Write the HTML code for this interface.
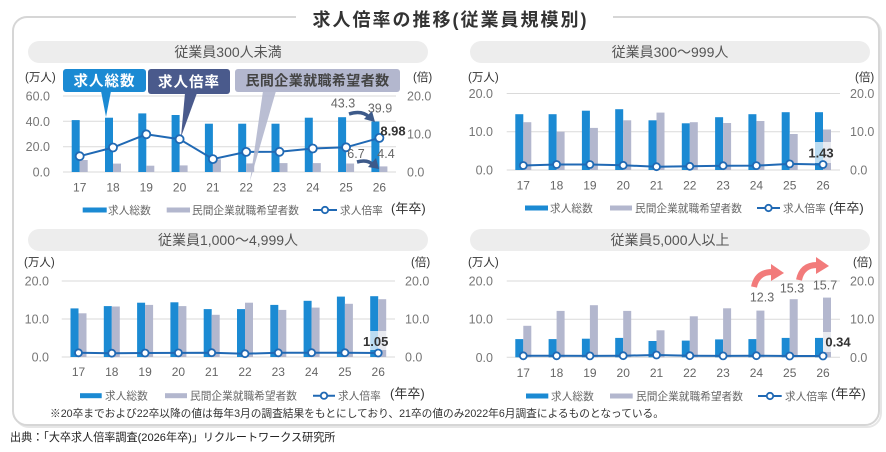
<!DOCTYPE html>
<html><head><meta charset="utf-8"><style>
html,body{margin:0;padding:0;background:#fff;}
body{width:886px;height:452px;overflow:hidden;}
svg{display:block;font-family:"Liberation Sans","Noto Sans CJK JP",sans-serif;}
.ax{font-size:12.5px;fill:#777;}
.yr{font-size:12px;fill:#666;text-anchor:middle;}
.un{font-size:11.5px;fill:#333;}
.lg{font-size:10.7px;fill:#666;}
.nen{font-size:13px;fill:#333;}
.pill{font-size:14px;fill:#555;text-anchor:middle;}
.grid{stroke:#dadada;stroke-width:1;}
.b{fill:#1b8ad3;}
.g{fill:#b3b7ce;}
.ln{fill:none;stroke:#2069b4;stroke-width:2;}
.mk{fill:#fff;stroke:#2069b4;stroke-width:1.8;}
.ann{font-size:12.5px;fill:#666;text-anchor:middle;}
.bold{font-size:13px;font-weight:bold;fill:#333;text-anchor:middle;}
</style></head><body>
<svg width="886" height="452" viewBox="0 0 886 452">
<!-- outer panel -->
<rect x="15" y="19" width="866" height="408" rx="14" fill="none" stroke="#e6e6e6" stroke-width="2"/>
<rect x="13" y="17" width="866" height="408" rx="14" fill="#fff" stroke="#d6d6d6" stroke-width="2"/>
<rect x="296" y="8" width="317" height="14" fill="#fff"/>
<text x="450.5" y="26" font-size="18" font-weight="bold" fill="#333" text-anchor="middle" letter-spacing="2">求人倍率の推移(従業員規模別)</text>

<!-- pills -->
<rect x="28" y="41" width="400" height="22" rx="11" fill="#ededed"/>
<text class="pill" x="228" y="57">従業員300人未満</text>
<rect x="470" y="41" width="400" height="22" rx="11" fill="#ededed"/>
<text class="pill" x="670" y="57">従業員300～999人</text>
<rect x="28" y="229" width="400" height="22" rx="11" fill="#ededed"/>
<text class="pill" x="228" y="245">従業員1,000～4,999人</text>
<rect x="470" y="229" width="400" height="22" rx="11" fill="#ededed"/>
<text class="pill" x="670" y="245">従業員5,000人以上</text>

<!-- ===== Chart A ===== -->
<line class="grid" x1="63" y1="96" x2="396" y2="96"/>
<line class="grid" x1="63" y1="121.3" x2="396" y2="121.3"/>
<line class="grid" x1="63" y1="146.7" x2="396" y2="146.7"/>
<line class="grid" x1="63" y1="172" x2="396" y2="172" stroke="#cfcfcf"/>
<text class="un" x="25" y="81">(万人)</text>
<text class="un" x="413" y="81">(倍)</text>
<g class="ax" text-anchor="end">
<text x="50" y="100.5">60.0</text><text x="50" y="125.8">40.0</text><text x="50" y="151.2">20.0</text><text x="50" y="176.5">0.0</text>
</g>
<g class="ax">
<text x="407" y="100.5">20.0</text><text x="407" y="138.5">10.0</text><text x="407" y="176.5">0.0</text>
</g>
<g class="b">
<rect x="71.7" y="120.1" width="8" height="51.9"/>
<rect x="105" y="117.7" width="8" height="54.3"/>
<rect x="138.3" y="113.4" width="8" height="58.6"/>
<rect x="171.6" y="115" width="8" height="57"/>
<rect x="204.9" y="123.7" width="8" height="48.3"/>
<rect x="238.2" y="123.7" width="8" height="48.3"/>
<rect x="271.5" y="123.7" width="8" height="48.3"/>
<rect x="304.8" y="117.7" width="8" height="54.3"/>
<rect x="338.1" y="117.2" width="8" height="54.8"/>
<rect x="371.4" y="121.5" width="8" height="50.5"/>
</g>
<g class="g">
<rect x="79.7" y="160" width="8" height="12"/>
<rect x="113" y="163.6" width="8" height="8.4"/>
<rect x="146.3" y="165.7" width="8" height="6.3"/>
<rect x="179.6" y="165.4" width="8" height="6.6"/>
<rect x="212.9" y="159.3" width="8" height="12.7"/>
<rect x="246.2" y="163.4" width="8" height="8.6"/>
<rect x="279.5" y="163.1" width="8" height="8.9"/>
<rect x="312.8" y="163.1" width="8" height="8.9"/>
<rect x="346.1" y="163.5" width="8" height="8.5"/>
<rect x="379.4" y="166.4" width="8" height="5.6"/>
</g>
<polyline class="ln" points="79.7,156.2 113,147.5 146.3,134.3 179.6,139.2 212.9,159.1 246.2,151.9 279.5,151.8 312.8,148.5 346.1,147.3 379.4,137.9"/>
<g class="mk">
<circle cx="79.7" cy="156.2" r="4"/><circle cx="113" cy="147.5" r="4"/><circle cx="146.3" cy="134.3" r="4"/><circle cx="179.6" cy="139.2" r="4"/><circle cx="212.9" cy="159.1" r="4"/><circle cx="246.2" cy="151.9" r="4"/><circle cx="279.5" cy="151.8" r="4"/><circle cx="312.8" cy="148.5" r="4"/><circle cx="346.1" cy="147.3" r="4"/><circle cx="379.4" cy="137.9" r="4"/>
</g>
<g class="yr">
<text x="79.7" y="191.5">17</text><text x="113" y="191.5">18</text><text x="146.3" y="191.5">19</text><text x="179.6" y="191.5">20</text><text x="212.9" y="191.5">21</text><text x="246.2" y="191.5">22</text><text x="279.5" y="191.5">23</text><text x="312.8" y="191.5">24</text><text x="346.1" y="191.5">25</text><text x="379.4" y="191.5">26</text>
</g>
<!-- annotations A -->
<text class="ann" x="343" y="107.5">43.3</text>
<text class="ann" x="380" y="112.5">39.9</text>
<text class="ann" x="356" y="158">6.7</text>
<text class="ann" x="386" y="158">4.4</text>
<text class="bold" x="393" y="135.5">8.98</text>
<path d="M349,114 Q362,110 369,117" fill="none" stroke="#3d5a8a" stroke-width="3.5"/>
<polygon points="364,119 375,122 372,111" fill="#3d5a8a"/>
<path d="M357,162 Q368,159 373,165" fill="none" stroke="#3d5a8a" stroke-width="3.5"/>
<polygon points="368,167 379,169 376,158" fill="#3d5a8a"/>
<!-- callouts A -->
<polygon points="263,91 276,91 250,181" fill="#b3b7ce" opacity="0.9"/>
<rect x="235" y="69" width="165" height="23" rx="3" fill="#b3b7ce"/>
<text x="317.5" y="85.5" font-size="14" font-weight="bold" fill="#444" text-anchor="middle" letter-spacing="0.4">民間企業就職希望者数</text>
<polygon points="101,91 111,91 106,117" fill="#1b8ad3"/>
<rect x="63" y="69" width="83" height="23" rx="3" fill="#1b8ad3"/>
<text x="104.5" y="86" font-size="14.5" font-weight="bold" fill="#fff" text-anchor="middle" letter-spacing="1">求人総数</text>
<polygon points="185,93 197,93 181,137" fill="#4a5a8c"/>
<rect x="148" y="69" width="82" height="25" rx="3" fill="#4a5a8c"/>
<text x="189" y="87" font-size="14.5" font-weight="bold" fill="#fff" text-anchor="middle" letter-spacing="1">求人倍率</text>
<!-- legend A -->
<rect class="b" x="82.7" y="207.5" width="24" height="5"/>
<text class="lg" x="108" y="214">求人総数</text>
<rect class="g" x="166.7" y="207.5" width="23.3" height="5"/>
<text class="lg" x="192" y="214">民間企業就職希望者数</text>
<line x1="313" y1="210" x2="337" y2="210" stroke="#2069b4" stroke-width="2"/>
<circle class="mk" cx="325" cy="210" r="3.2"/>
<text class="lg" x="340" y="214">求人倍率</text>
<text class="nen" x="391" y="213">(年卒)</text>

<!-- ===== Chart B ===== -->
<line class="grid" x1="506.7" y1="93.5" x2="840" y2="93.5"/>
<line class="grid" x1="506.7" y1="131.75" x2="840" y2="131.75"/>
<line class="grid" x1="506.7" y1="170" x2="840" y2="170" stroke="#cfcfcf"/>
<text class="un" x="468" y="81">(万人)</text>
<text class="un" x="855" y="81">(倍)</text>
<g class="ax" text-anchor="end">
<text x="493" y="98">20.0</text><text x="493" y="136.2">10.0</text><text x="493" y="174.5">0.0</text>
</g>
<g class="ax">
<text x="850" y="98">20.0</text><text x="850" y="136.2">10.0</text><text x="850" y="174.5">0.0</text>
</g>
<g class="b">
<rect x="515.3" y="114.2" width="8" height="55.8"/>
<rect x="548.6" y="114.2" width="8" height="55.8"/>
<rect x="581.9" y="110.7" width="8" height="59.3"/>
<rect x="615.2" y="109.2" width="8" height="60.8"/>
<rect x="648.5" y="120.3" width="8" height="49.7"/>
<rect x="681.8" y="123.3" width="8" height="46.7"/>
<rect x="715.1" y="117.2" width="8" height="52.8"/>
<rect x="748.4" y="114.2" width="8" height="55.8"/>
<rect x="781.7" y="112.2" width="8" height="57.8"/>
<rect x="815" y="112.2" width="8" height="57.8"/>
</g>
<g class="g">
<rect x="523.3" y="122.2" width="8" height="47.8"/>
<rect x="556.6" y="131.7" width="8" height="38.3"/>
<rect x="589.9" y="127.9" width="8" height="42.1"/>
<rect x="623.2" y="120.3" width="8" height="49.7"/>
<rect x="656.5" y="112.6" width="8" height="57.4"/>
<rect x="689.8" y="122.2" width="8" height="47.8"/>
<rect x="723.1" y="123" width="8" height="47"/>
<rect x="756.4" y="121" width="8" height="49"/>
<rect x="789.7" y="134" width="8" height="36"/>
<rect x="823" y="129.5" width="8" height="40.5"/>
</g>
<rect x="807" y="142" width="28" height="21" fill="#fff" opacity="0.7"/>
<polyline class="ln" points="523.3,165.5 556.6,164.5 589.9,164.5 623.2,165.3 656.5,166.7 689.8,166.3 723.1,165.7 756.4,165.6 789.7,163.9 823,164.5"/>
<g class="mk">
<circle cx="523.3" cy="165.5" r="3.5"/><circle cx="556.6" cy="164.5" r="3.5"/><circle cx="589.9" cy="164.5" r="3.5"/><circle cx="623.2" cy="165.3" r="3.5"/><circle cx="656.5" cy="166.7" r="3.5"/><circle cx="689.8" cy="166.3" r="3.5"/><circle cx="723.1" cy="165.7" r="3.5"/><circle cx="756.4" cy="165.6" r="3.5"/><circle cx="789.7" cy="163.9" r="3.5"/><circle cx="823" cy="164.5" r="3.5"/>
</g>
<text class="bold" x="821" y="157.5">1.43</text>
<g class="yr">
<text x="523.3" y="189.5">17</text><text x="556.6" y="189.5">18</text><text x="589.9" y="189.5">19</text><text x="623.2" y="189.5">20</text><text x="656.5" y="189.5">21</text><text x="689.8" y="189.5">22</text><text x="723.1" y="189.5">23</text><text x="756.4" y="189.5">24</text><text x="789.7" y="189.5">25</text><text x="823" y="189.5">26</text>
</g>
<rect class="b" x="525" y="205.5" width="23" height="5"/>
<text class="lg" x="550" y="212">求人総数</text>
<rect class="g" x="610" y="205.5" width="22" height="5"/>
<text class="lg" x="635" y="212">民間企業就職希望者数</text>
<line x1="757" y1="208" x2="780" y2="208" stroke="#2069b4" stroke-width="2"/>
<circle class="mk" cx="768.5" cy="208" r="3.2"/>
<text class="lg" x="783" y="212">求人倍率</text>
<text class="nen" x="829" y="212.5">(年卒)</text>

<!-- ===== Chart C ===== -->
<line class="grid" x1="61.7" y1="281" x2="395" y2="281"/>
<line class="grid" x1="61.7" y1="319" x2="395" y2="319"/>
<line class="grid" x1="61.7" y1="357" x2="395" y2="357" stroke="#cfcfcf"/>
<text class="un" x="24" y="266">(万人)</text>
<text class="un" x="411" y="266">(倍)</text>
<g class="ax" text-anchor="end">
<text x="49" y="285.5">20.0</text><text x="49" y="323.5">10.0</text><text x="49" y="361.5">0.0</text>
</g>
<g class="ax">
<text x="405" y="285.5">20.0</text><text x="405" y="323.5">10.0</text><text x="405" y="361.5">0.0</text>
</g>
<g class="b">
<rect x="70.5" y="308.4" width="8" height="48.6"/>
<rect x="103.8" y="306.1" width="8" height="50.9"/>
<rect x="137.1" y="302.7" width="8" height="54.3"/>
<rect x="170.4" y="302.3" width="8" height="54.7"/>
<rect x="203.7" y="309.1" width="8" height="47.9"/>
<rect x="237" y="309.1" width="8" height="47.9"/>
<rect x="270.3" y="304.9" width="8" height="52.1"/>
<rect x="303.6" y="300.8" width="8" height="56.2"/>
<rect x="336.9" y="296.6" width="8" height="60.4"/>
<rect x="370.2" y="296.2" width="8" height="60.8"/>
</g>
<g class="g">
<rect x="78.5" y="313.3" width="8" height="43.7"/>
<rect x="111.8" y="306.5" width="8" height="50.5"/>
<rect x="145.1" y="304.9" width="8" height="52.1"/>
<rect x="178.4" y="306.1" width="8" height="50.9"/>
<rect x="211.7" y="314.8" width="8" height="42.2"/>
<rect x="245" y="302.7" width="8" height="54.3"/>
<rect x="278.3" y="309.9" width="8" height="47.1"/>
<rect x="311.6" y="307.6" width="8" height="49.4"/>
<rect x="344.9" y="303.8" width="8" height="53.2"/>
<rect x="378.2" y="299.2" width="8" height="57.8"/>
</g>
<rect x="361" y="331" width="29" height="19" fill="#fff" opacity="0.7"/>
<polyline class="ln" points="78.5,352.8 111.8,353.2 145.1,353 178.4,352.9 211.7,352.7 245,353.7 278.3,352.8 311.6,352.7 344.9,352.7 378.2,353"/>
<g class="mk">
<circle cx="78.5" cy="352.8" r="3.5"/><circle cx="111.8" cy="353.2" r="3.5"/><circle cx="145.1" cy="353" r="3.5"/><circle cx="178.4" cy="352.9" r="3.5"/><circle cx="211.7" cy="352.7" r="3.5"/><circle cx="245" cy="353.7" r="3.5"/><circle cx="278.3" cy="352.8" r="3.5"/><circle cx="311.6" cy="352.7" r="3.5"/><circle cx="344.9" cy="352.7" r="3.5"/><circle cx="378.2" cy="353" r="3.5"/>
</g>
<text class="bold" x="375.7" y="346">1.05</text>
<g class="yr">
<text x="78.5" y="376">17</text><text x="111.8" y="376">18</text><text x="145.1" y="376">19</text><text x="178.4" y="376">20</text><text x="211.7" y="376">21</text><text x="245" y="376">22</text><text x="278.3" y="376">23</text><text x="311.6" y="376">24</text><text x="344.9" y="376">25</text><text x="378.2" y="376">26</text>
</g>
<rect class="b" x="80" y="393.2" width="21.7" height="5"/>
<text class="lg" x="105" y="399.5">求人総数</text>
<rect class="g" x="165" y="393.2" width="22" height="5"/>
<text class="lg" x="190" y="399.5">民間企業就職希望者数</text>
<line x1="313" y1="395.7" x2="335" y2="395.7" stroke="#2069b4" stroke-width="2"/>
<circle class="mk" cx="324" cy="395.7" r="3.2"/>
<text class="lg" x="338" y="399.5">求人倍率</text>
<text class="nen" x="390" y="398">(年卒)</text>

<!-- ===== Chart D ===== -->
<line class="grid" x1="506.7" y1="281" x2="840" y2="281"/>
<line class="grid" x1="506.7" y1="319.2" x2="840" y2="319.2"/>
<line class="grid" x1="506.7" y1="357.3" x2="840" y2="357.3" stroke="#cfcfcf"/>
<text class="un" x="468" y="266">(万人)</text>
<text class="un" x="853" y="266">(倍)</text>
<g class="ax" text-anchor="end">
<text x="493" y="285.5">20.0</text><text x="493" y="323.7">10.0</text><text x="493" y="361.8">0.0</text>
</g>
<g class="ax">
<text x="850" y="285.5">20.0</text><text x="850" y="323.7">10.0</text><text x="850" y="361.8">0.0</text>
</g>
<g class="b">
<rect x="515.3" y="339.1" width="8" height="18.2"/>
<rect x="548.6" y="339.1" width="8" height="18.2"/>
<rect x="581.9" y="338.7" width="8" height="18.6"/>
<rect x="615.2" y="337.9" width="8" height="19.4"/>
<rect x="648.5" y="341" width="8" height="16.3"/>
<rect x="681.8" y="340.6" width="8" height="16.7"/>
<rect x="715.1" y="339.4" width="8" height="17.9"/>
<rect x="748.4" y="339.1" width="8" height="18.2"/>
<rect x="781.7" y="337.9" width="8" height="19.4"/>
<rect x="815" y="337.9" width="8" height="19.4"/>
</g>
<g class="g">
<rect x="523.3" y="325.8" width="8" height="31.5"/>
<rect x="556.6" y="310.9" width="8" height="46.4"/>
<rect x="589.9" y="305.2" width="8" height="52.1"/>
<rect x="623.2" y="310.9" width="8" height="46.4"/>
<rect x="656.5" y="330.3" width="8" height="27"/>
<rect x="689.8" y="316.3" width="8" height="41"/>
<rect x="723.1" y="308.3" width="8" height="49"/>
<rect x="756.4" y="310.6" width="8" height="46.7"/>
<rect x="789.7" y="299.2" width="8" height="58.1"/>
<rect x="823" y="297.6" width="8" height="59.7"/>
</g>
<rect x="823" y="332" width="30" height="20" fill="#fff" opacity="0.7"/>
<polyline class="ln" points="523.3,355.8 556.6,355.8 589.9,355.9 623.2,355.7 656.5,355 689.8,355.7 723.1,355.9 756.4,355.7 789.7,356 823,356"/>
<g class="mk">
<circle cx="523.3" cy="355.8" r="3.5"/><circle cx="556.6" cy="355.8" r="3.5"/><circle cx="589.9" cy="355.9" r="3.5"/><circle cx="623.2" cy="355.7" r="3.5"/><circle cx="656.5" cy="355" r="3.5"/><circle cx="689.8" cy="355.7" r="3.5"/><circle cx="723.1" cy="355.9" r="3.5"/><circle cx="756.4" cy="355.7" r="3.5"/><circle cx="789.7" cy="356" r="3.5"/><circle cx="823" cy="356" r="3.5"/>
</g>
<text class="bold" x="838" y="346.5">0.34</text>
<!-- red arrows -->
<path d="M754,287 Q757,272 772,272" fill="none" stroke="#f27b7b" stroke-width="6"/>
<polygon points="771,264 784,273 771,281" fill="#f27b7b"/>
<path d="M799,280 Q802,265 817,265" fill="none" stroke="#f27b7b" stroke-width="6"/>
<polygon points="816,257 829,266 816,274" fill="#f27b7b"/>
<text class="ann" x="762" y="301.5">12.3</text>
<text class="ann" x="792" y="292.5">15.3</text>
<text class="ann" x="825" y="289.5">15.7</text>
<g class="yr">
<text x="523.3" y="377">17</text><text x="556.6" y="377">18</text><text x="589.9" y="377">19</text><text x="623.2" y="377">20</text><text x="656.5" y="377">21</text><text x="689.8" y="377">22</text><text x="723.1" y="377">23</text><text x="756.4" y="377">24</text><text x="789.7" y="377">25</text><text x="823" y="377">26</text>
</g>
<rect class="b" x="526" y="393.5" width="22.3" height="5"/>
<text class="lg" x="551" y="400">求人総数</text>
<rect class="g" x="610" y="393.5" width="22.7" height="5"/>
<text class="lg" x="636" y="400">民間企業就職希望者数</text>
<line x1="758" y1="396" x2="781.7" y2="396" stroke="#2069b4" stroke-width="2"/>
<circle class="mk" cx="770" cy="396" r="3.2"/>
<text class="lg" x="785" y="400">求人倍率</text>
<text class="nen" x="831" y="398">(年卒)</text>

<!-- notes -->
<text x="50" y="417" font-size="10.7" fill="#333">※20卒までおよび22卒以降の値は毎年3月の調査結果をもとにしており、21卒の値のみ2022年6月調査によるものとなっている。</text>
<text x="10" y="441" font-size="11.1" fill="#222">出典：「大卒求人倍率調査(2026年卒)」リクルートワークス研究所</text>
</svg>
</body></html>
